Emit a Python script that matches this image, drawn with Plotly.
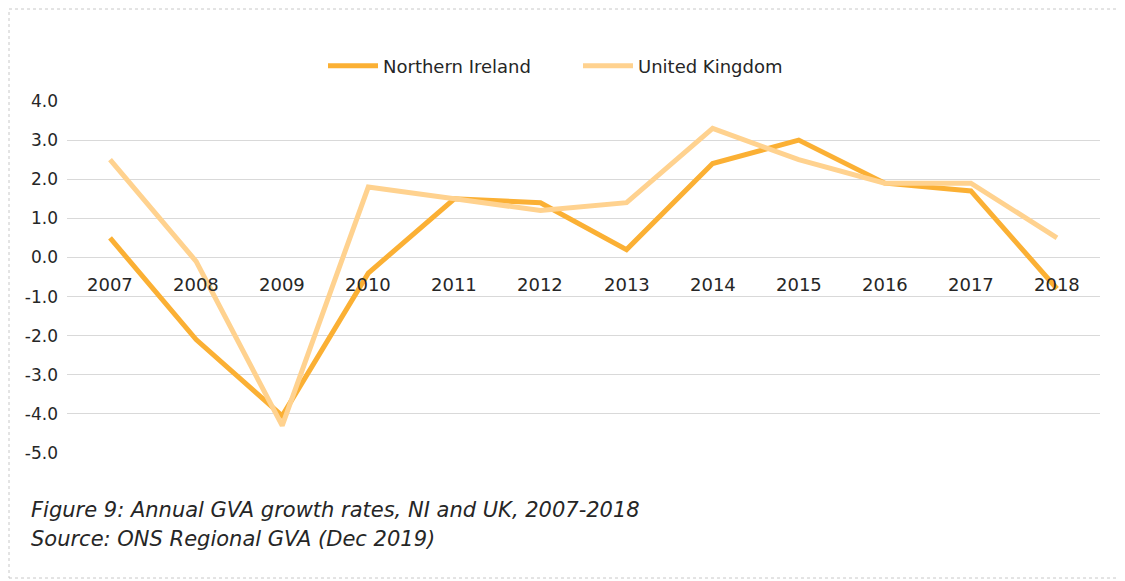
import plotly.graph_objects as go

years = ["2007", "2008", "2009", "2010", "2011", "2012", "2013", "2014", "2015", "2016", "2017", "2018"]
ni_values = [0.5, -2.1, -4.05, -0.4, 1.5, 1.4, 0.2, 2.4, 3.0, 1.9, 1.7, -0.8]
uk_values = [2.5, -0.1, -4.3, 1.8, 1.5, 1.2, 1.4, 3.3, 2.5, 1.9, 1.9, 0.5]
y_ticks = [4, 3, 2, 1, 0, -1, -2, -3, -4, -5]
y_tick_labels = ["4.0", "3.0", "2.0", "1.0", "0.0", "-1.0", "-2.0", "-3.0", "-4.0", "-5.0"]
caption_lines = ["Figure 9: Annual GVA growth rates, NI and UK, 2007-2018",
                 "Source: ONS Regional GVA (Dec 2019)"]

FONT = "DejaVu Sans"
TEXT = "#262626"

# page offset (body margin) compensation
OFF = 8
W, H = 1125, 581
# desired screen coordinates of the plot area
sx0, sx1, sy0, sy1 = 67, 1100, 101, 453
ml, mt = sx0 - OFF, sy0 - OFF
pw, ph = sx1 - sx0, sy1 - sy0
mr = W - ml - pw
mb = H - mt - ph


def px_x(sx):
    return (sx - OFF - ml) / pw


def px_y(sy):
    return (H - mb - (sy - OFF)) / ph


fig = go.Figure()
fig.add_trace(go.Scatter(x=years, y=ni_values, mode="lines", name="Northern Ireland",
                         line=dict(color="#FBB034", width=5)))
fig.add_trace(go.Scatter(x=years, y=uk_values, mode="lines", name="United Kingdom",
                         line=dict(color="#FFD28F", width=5)))

annotations = []
for i, yr in enumerate(years):
    annotations.append(dict(x=i, y=0, xref="x", yref="y", text=yr, showarrow=False,
                            yanchor="middle", yshift=-27,
                            font=dict(family=FONT, size=18, color=TEXT)))
for i, line in enumerate(caption_lines):
    annotations.append(dict(x=px_x(29), y=px_y(510 + 29 * i), xref="paper", yref="paper",
                            text=line, showarrow=False, xanchor="left", yanchor="middle",
                            font=dict(family=FONT, size=21, color=TEXT, style="italic")))

fig.update_layout(
    width=W, height=H,
    margin=dict(l=ml, r=mr, t=mt, b=mb),
    paper_bgcolor="white", plot_bgcolor="white",
    font=dict(family=FONT, color=TEXT),
    showlegend=True,
    legend=dict(orientation="h", x=px_x(578), xanchor="center", y=px_y(66), yanchor="middle",
                font=dict(family=FONT, size=18, color=TEXT), entrywidth=190,
                itemwidth=50),
    xaxis=dict(type="category", showticklabels=False, showgrid=False, zeroline=False,
               showline=False, ticks="", range=[-0.5, 11.5]),
    yaxis=dict(range=[-5, 4], tickvals=y_ticks, ticktext=y_tick_labels, showgrid=True,
               gridcolor="#D9D9D9", gridwidth=1, zeroline=False, showline=False,
               tickfont=dict(family=FONT, size=17, color=TEXT), ticks="", ticklabelstandoff=8),
    annotations=annotations,
    shapes=[dict(type="rect", xref="paper", yref="paper",
                 x0=px_x(9), x1=px_x(1121),
                 y0=px_y(578), y1=px_y(9),
                 line=dict(color="#C8C8C8", width=1, dash="dot"), fillcolor="rgba(0,0,0,0)",
                 layer="below")],
)

fig.write_html("out.html")
